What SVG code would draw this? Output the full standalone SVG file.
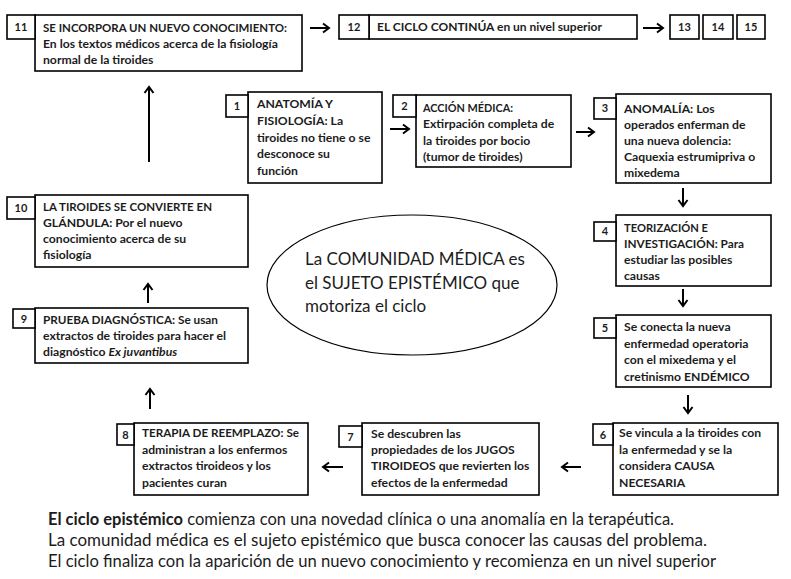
<svg xmlns="http://www.w3.org/2000/svg" width="791" height="579" viewBox="0 0 791 579">
<defs>
<marker id="ah" markerUnits="userSpaceOnUse" markerWidth="12" markerHeight="12" viewBox="0 0 12 12" refX="9" refY="6" orient="auto">
<path d="M3,1.5 L9,6 L3,10.5" fill="none" stroke="#000" stroke-width="2"/>
</marker>
<style>
.b{fill:#fff;stroke:#000;stroke-width:1.6}
.t{font-family:Lato,"Liberation Sans",sans-serif;font-weight:bold;font-size:12.2px;fill:#1c1c1c}
.n{font-family:Lato,"Liberation Sans",sans-serif;font-weight:bold;font-size:11px;fill:#1c1c1c;text-anchor:middle}
.c{stroke:#000;stroke-width:2;fill:none;marker-end:url(#ah)}
.e{font-family:Lato,"Liberation Sans",sans-serif;font-size:17px;fill:#1c1c1c}
.f{font-family:Lato,"Liberation Sans",sans-serif;font-size:16.5px;fill:#1c1c1c}
</style>
</defs>
<rect width="791" height="579" fill="#fff"/>
<g id="connectors">
<line class="c" x1="310" y1="28" x2="329" y2="28"/>
<line class="c" x1="643" y1="28" x2="663" y2="28"/>
<line class="c" x1="390" y1="129" x2="409" y2="129"/>
<line class="c" x1="576" y1="132" x2="594" y2="132"/>
<line class="c" x1="683" y1="188" x2="683" y2="206"/>
<line class="c" x1="683" y1="289" x2="683" y2="306"/>
<line class="c" x1="688" y1="395" x2="688" y2="413"/>
<line class="c" x1="581" y1="467" x2="562" y2="467"/>
<line class="c" x1="343" y1="467" x2="323" y2="467"/>
<line class="c" x1="150" y1="409" x2="150" y2="389"/>
<line class="c" x1="148" y1="303" x2="148" y2="284"/>
<line class="c" x1="149" y1="162" x2="149" y2="87"/>
</g>
<g id="node11">
<rect class="b" x="35" y="15" width="267" height="56"/>
<rect class="b" x="7" y="15" width="28" height="24"/>
<text class="n" x="21" y="31">11</text>
<text class="t" x="43" y="32" textLength="244" lengthAdjust="spacingAndGlyphs">SE INCORPORA UN NUEVO CONOCIMIENTO:</text>
<text class="t" x="43" y="48">En los textos médicos acerca de la fisiología</text>
<text class="t" x="43" y="64">normal de la tiroides</text>
</g>
<g id="node12">
<rect class="b" x="369" y="15" width="268" height="24"/>
<rect class="b" x="339" y="15" width="30" height="24"/>
<text class="n" x="354" y="31">12</text>
<text class="t" x="377" y="31" textLength="225" lengthAdjust="spacingAndGlyphs">EL CICLO CONTINÚA en un nivel superior</text>
</g>
<g id="node13">
<rect class="b" x="670" y="15" width="29" height="24"/>
<text class="n" x="684.5" y="31">13</text>
</g>
<g id="node14">
<rect class="b" x="703" y="15" width="30" height="24"/>
<text class="n" x="718" y="31">14</text>
</g>
<g id="node15">
<rect class="b" x="737" y="15" width="28" height="24"/>
<text class="n" x="751" y="31">15</text>
</g>
<g id="node1">
<rect class="b" x="248" y="92" width="134" height="91"/>
<rect class="b" x="226" y="95" width="22" height="22"/>
<text class="n" x="237" y="110">1</text>
<text class="t" x="257" y="108">ANATOMÍA Y</text>
<text class="t" x="257" y="125">FISIOLOGÍA: La</text>
<text class="t" x="257" y="142">tiroides no tiene o se</text>
<text class="t" x="257" y="158">desconoce su</text>
<text class="t" x="257" y="175">función</text>
</g>
<g id="node2">
<rect class="b" x="416" y="95" width="155" height="72"/>
<rect class="b" x="393" y="95" width="23" height="22"/>
<text class="n" x="404.5" y="110">2</text>
<text class="t" x="423" y="112" textLength="90" lengthAdjust="spacingAndGlyphs">ACCIÓN MÉDICA:</text>
<text class="t" x="423" y="128">Extirpación completa de</text>
<text class="t" x="423" y="145">la tiroides por bocio</text>
<text class="t" x="423" y="161">(tumor de tiroides)</text>
</g>
<g id="node3">
<rect class="b" x="616" y="94" width="155" height="89"/>
<rect class="b" x="594" y="98" width="22" height="21"/>
<text class="n" x="605" y="112">3</text>
<text class="t" x="624" y="113">ANOMALÍA: Los</text>
<text class="t" x="624" y="129">operados enferman de</text>
<text class="t" x="624" y="145">una nueva dolencia:</text>
<text class="t" x="624" y="161">Caquexia estrumipriva o</text>
<text class="t" x="624" y="177">mixedema</text>
</g>
<g id="node4">
<rect class="b" x="616" y="215" width="155" height="71"/>
<rect class="b" x="594" y="222" width="22" height="19"/>
<text class="n" x="605" y="235">4</text>
<text class="t" x="624" y="232" textLength="84" lengthAdjust="spacingAndGlyphs">TEORIZACIÓN E</text>
<text class="t" x="624" y="248" textLength="120" lengthAdjust="spacingAndGlyphs">INVESTIGACIÓN: Para</text>
<text class="t" x="624" y="264">estudiar las posibles</text>
<text class="t" x="624" y="280">causas</text>
</g>
<g id="node5">
<rect class="b" x="616" y="315" width="155" height="72"/>
<rect class="b" x="594" y="318" width="22" height="20"/>
<text class="n" x="605" y="332">5</text>
<text class="t" x="624" y="331">Se conecta la nueva</text>
<text class="t" x="624" y="348">enfermedad operatoria</text>
<text class="t" x="624" y="364">con el mixedema y el</text>
<text class="t" x="624" y="381">cretinismo ENDÉMICO</text>
</g>
<g id="node6">
<rect class="b" x="613" y="423" width="165" height="72"/>
<rect class="b" x="593" y="424" width="20" height="21"/>
<text class="n" x="603" y="439">6</text>
<text class="t" x="619" y="437">Se vincula a la tiroides con</text>
<text class="t" x="619" y="454">la enfermedad y se la</text>
<text class="t" x="619" y="470">considera CAUSA</text>
<text class="t" x="619" y="487">NECESARIA</text>
</g>
<g id="node7">
<rect class="b" x="362" y="423" width="177" height="72"/>
<rect class="b" x="339" y="426" width="23" height="21"/>
<text class="n" x="350.5" y="441">7</text>
<text class="t" x="371" y="438">Se descubren las</text>
<text class="t" x="371" y="454">propiedades de los JUGOS</text>
<text class="t" x="371" y="470">TIROIDEOS que revierten los</text>
<text class="t" x="371" y="487">efectos de la enfermedad</text>
</g>
<g id="node8">
<rect class="b" x="134" y="423" width="174" height="72"/>
<rect class="b" x="117" y="424" width="17" height="21"/>
<text class="n" x="125.5" y="439">8</text>
<text class="t" x="142" y="437" textLength="157" lengthAdjust="spacingAndGlyphs">TERAPIA DE REEMPLAZO: Se</text>
<text class="t" x="142" y="454">administran a los enfermos</text>
<text class="t" x="142" y="470">extractos tiroideos y los</text>
<text class="t" x="142" y="487">pacientes curan</text>
</g>
<g id="node9">
<rect class="b" x="35" y="308" width="213" height="55"/>
<rect class="b" x="13" y="309" width="22" height="19"/>
<text class="n" x="24" y="323">9</text>
<text class="t" x="43" y="324" textLength="175" lengthAdjust="spacingAndGlyphs">PRUEBA DIAGNÓSTICA: Se usan</text>
<text class="t" x="43" y="340">extractos de tiroides para hacer el</text>
<text class="t" x="43" y="356">diagnóstico <tspan font-style="italic">Ex juvantibus</tspan></text>
</g>
<g id="node10">
<rect class="b" x="35" y="195" width="213" height="72"/>
<rect class="b" x="7" y="197" width="28" height="22"/>
<text class="n" x="21" y="212">10</text>
<text class="t" x="43" y="211" textLength="169" lengthAdjust="spacingAndGlyphs">LA TIROIDES SE CONVIERTE EN</text>
<text class="t" x="43" y="227">GLÁNDULA: Por el nuevo</text>
<text class="t" x="43" y="243">conocimiento acerca de su</text>
<text class="t" x="43" y="259">fisiología</text>
</g>
<g id="center">
<ellipse cx="412" cy="285" rx="145" ry="70" fill="#fff" stroke="#000" stroke-width="1.2"/>
<text class="e" x="305" y="265">La COMUNIDAD MÉDICA es</text>
<text class="e" x="305" y="289">el SUJETO EPISTÉMICO que</text>
<text class="e" x="305" y="312">motoriza el ciclo</text>
</g>
<g id="caption">
<text class="f" x="48" y="525" textLength="626" lengthAdjust="spacingAndGlyphs"><tspan font-weight="bold">El ciclo epistémico</tspan> comienza con una novedad clínica o una anomalía en la terapéutica.</text>
<text class="f" x="48" y="546" textLength="659" lengthAdjust="spacingAndGlyphs">La comunidad médica es el sujeto epistémico que busca conocer las causas del problema.</text>
<text class="f" x="48" y="567" textLength="668" lengthAdjust="spacingAndGlyphs">El ciclo finaliza con la aparición de un nuevo conocimiento y recomienza en un nivel superior</text>
</g>
</svg>
